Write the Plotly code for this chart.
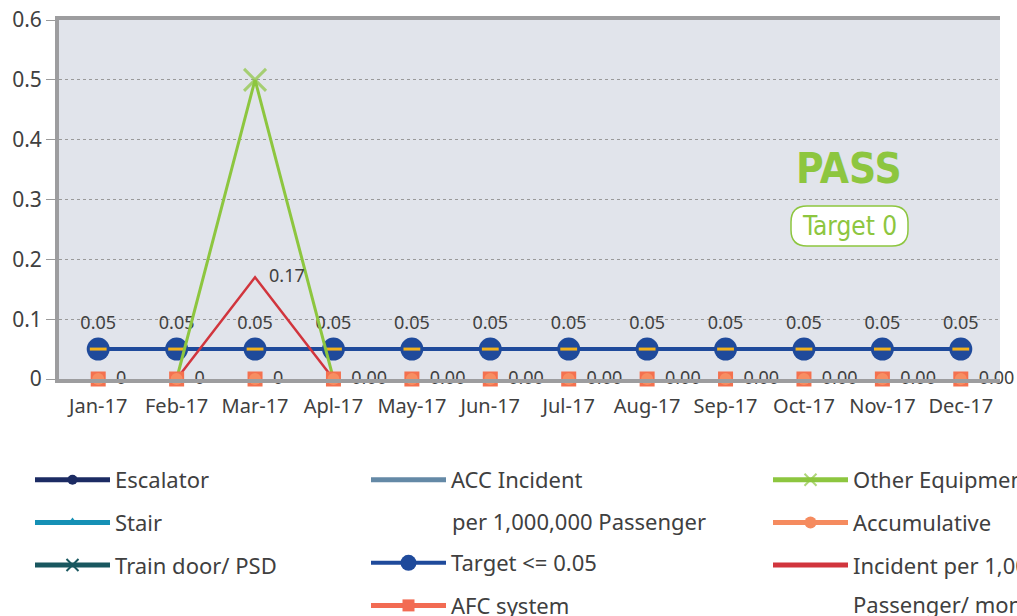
import plotly.graph_objects as go

# ---------------- data ----------------
months = ["Jan-17", "Feb-17", "Mar-17", "Apl-17", "May-17", "Jun-17",
          "Jul-17", "Aug-17", "Sep-17", "Oct-17", "Nov-17", "Dec-17"]
escalator = [None, None, None, None, None, None, None, None, None, None, None, None]
stair = [None, None, None, None, None, None, None, None, None, None, None, None]
train_door = [None, None, None, None, None, None, None, None, None, None, None, None]
acc_incident = [None, None, None, None, None, None, None, None, None, None, None, None]
target = [0.05, 0.05, 0.05, 0.05, 0.05, 0.05, 0.05, 0.05, 0.05, 0.05, 0.05, 0.05]
afc_system = [0, 0, 0, 0, 0, 0, 0, 0, 0, 0, 0, 0]
other_equipment = [None, 0, 0.5, 0, None, None, None, None, None, None, None, None]
accumulative = [0, 0, 0, 0, 0, 0, 0, 0, 0, 0, 0, 0]
accumulative_labels = ["0", "0", "0", "0.00", "0.00", "0.00", "0.00", "0.00",
                       "0.00", "0.00", "0.00", "0.00"]
incident_rate = [None, 0, 0.17, 0, None, None, None, None, None, None, None, None]
incident_labels = ["", "", "0.17", "", "", "", "", "", "", "", "", ""]
other_marker_sizes = [0, 0, 22, 0, 0, 0, 0, 0, 0, 0, 0, 0]
y_ticks = [0, 0.1, 0.2, 0.3, 0.4, 0.5, 0.6]

FONT = "Noto Sans"
COND = "Noto Sans ExtraCondensed, Noto Sans Condensed, DejaVu Sans Condensed, Liberation Sans Narrow"
TXT = "#404040"
GREEN = "#8dc63f"
NB = "\u00a0"

# plot area in pixels (for placing the non-data decorations)
L, T, W, H = 59, 20, 941, 359


def px(xp):
    return (xp - L) / W


def py(yp):
    return (T + H - yp) / H


fig = go.Figure()

# ---- legend-only series (no data in this period) ----
fig.add_trace(go.Scatter(x=months, y=escalator, name="Escalator", mode="lines+markers",
                         line=dict(color="#1c2b63", width=5),
                         marker=dict(symbol="circle", size=10, color="#1c2b63"),
                         legend="legend", legendgroup="g1"))
fig.add_trace(go.Scatter(x=months, y=stair, name="Stair", mode="lines+markers",
                         line=dict(color="#1590b5", width=5),
                         marker=dict(symbol="triangle-up", size=10, color="#1590b5"),
                         legend="legend", legendgroup="g2"))
fig.add_trace(go.Scatter(x=months, y=train_door, name="Train door/ PSD", mode="lines+markers",
                         line=dict(color="#19575f", width=5),
                         marker=dict(symbol="x-thin", size=12, line=dict(color="#19575f", width=2)),
                         legend="legend", legendgroup="g3"))
fig.add_trace(go.Scatter(x=months, y=acc_incident, name="ACC Incident", mode="lines",
                         line=dict(color="#6489a6", width=5),
                         legend="legend2", legendgroup="g4"))

# ---- data series ----
fig.add_trace(go.Scatter(x=months, y=target, name="Target <= 0.05", mode="lines+markers+text",
                         line=dict(color="#1f4a9b", width=4),
                         marker=dict(symbol="circle", size=23, color="#1f4a9b"),
                         text=[f"{v:.2f}" for v in target], textposition="top center",
                         textfont=dict(family=FONT, size=18, color=TXT),
                         cliponaxis=False, legend="legend3", legendgroup="g5"))
fig.add_trace(go.Scatter(x=months, y=target, mode="markers", showlegend=False, hoverinfo="skip",
                         marker=dict(symbol="line-ew", size=12, color="#f3b21c",
                                     line=dict(color="#f3b21c", width=3)),
                         cliponaxis=False, legendgroup="g5"))
fig.add_trace(go.Scatter(x=months, y=other_equipment, name="Other Equipment", mode="lines+markers",
                         line=dict(color=GREEN, width=3),
                         marker=dict(symbol="x-thin", size=other_marker_sizes,
                                     line=dict(color=GREEN, width=3), color=GREEN),
                         cliponaxis=False, legend="legend4", legendgroup="g7", legendrank=1))
fig.add_trace(go.Scatter(x=months, y=incident_rate, name="Incident per 1,000,000", mode="lines+text",
                         line=dict(color="#d1353d", width=2.5),
                         text=incident_labels, texttemplate=NB * 3 + "%{text}",
                         textposition="middle right",
                         textfont=dict(family=FONT, size=18, color=TXT),
                         cliponaxis=False, legend="legend4", legendgroup="g9", legendrank=3))
fig.add_trace(go.Scatter(x=months, y=afc_system, mode="markers", showlegend=False,
                         marker=dict(symbol="square", size=15, color="#f4714f"),
                         cliponaxis=False, legendgroup="g6"))
fig.add_trace(go.Scatter(x=months, y=accumulative, mode="markers+text", showlegend=False,
                         marker=dict(symbol="circle", size=12, color="#f78e62"),
                         text=accumulative_labels, texttemplate=NB * 2 + "%{text}",
                         textposition="middle right",
                         textfont=dict(family=FONT, size=18, color=TXT),
                         cliponaxis=False, legendgroup="g8"))

# ---- legend entries for the marker-only series ----
fig.add_trace(go.Scatter(x=months, y=[None] * len(months), name="AFC system", mode="lines+markers",
                         line=dict(color="#f26b53", width=5),
                         marker=dict(symbol="square", size=12, color="#f26b53"),
                         legend="legend3", legendgroup="g6"))
fig.add_trace(go.Scatter(x=months, y=[None] * len(months), name="Accumulative", mode="lines+markers",
                         line=dict(color="#f58b5f", width=5),
                         marker=dict(symbol="circle", size=12, color="#f58b5f"),
                         legend="legend4", legendgroup="g8", legendrank=2))

leg_common = dict(font=dict(family=FONT, size=22, color=TXT), bgcolor="rgba(0,0,0,0)",
                  orientation="v", itemwidth=75, tracegroupgap=11, xanchor="left", yanchor="top",
                  itemclick=False, itemdoubleclick=False)

fig.update_layout(
    width=1017, height=616,
    margin=dict(l=L, r=1017 - L - W, t=T, b=616 - T - H, autoexpand=False),
    paper_bgcolor="white",
    plot_bgcolor="#e1e4eb",
    font=dict(family=FONT, color=TXT),
    hovermode=False,
    xaxis=dict(type="category", categoryorder="array", categoryarray=months,
               range=[-0.5, 11.5], showgrid=False, zeroline=False,
               showline=True, linecolor="#9d9d9f", linewidth=4, mirror=True,
               ticks="", ticklabelstandoff=6,
               tickfont=dict(family=FONT, size=20, color=TXT)),
    yaxis=dict(range=[0, 0.6], tickvals=y_ticks, showgrid=True, gridcolor="#9a9a9a",
               griddash="dot", gridwidth=1.2, zeroline=False,
               showline=True, linecolor="#9d9d9f", linewidth=4,
               ticks="outside", ticklen=9, tickcolor="#9a9a9a", tickwidth=1,
               tickfont=dict(family=FONT, size=21, color=TXT)),
    legend=dict(**leg_common, x=px(30), y=py(459)),
    legend2=dict(**leg_common, x=px(366), y=py(459)),
    legend3=dict(**leg_common, x=px(366), y=py(542)),
    legend4=dict(**leg_common, x=px(768), y=py(459), itemsizing="constant"),
    showlegend=True,
)

# continuation lines of the wrapped legend labels
fig.add_annotation(xref="paper", yref="paper", x=px(450), y=py(521),
                   text="per 1,000,000 Passenger", showarrow=False, xanchor="left", yanchor="middle",
                   font=dict(family=FONT, size=22, color=TXT))
fig.add_annotation(xref="paper", yref="paper", x=px(851), y=py(604),
                   text="Passenger/ month", showarrow=False, xanchor="left", yanchor="middle",
                   font=dict(family=FONT, size=22, color=TXT))

# PASS badge
fig.add_annotation(xref="paper", yref="paper", x=px(849), y=py(168), text="PASS",
                   showarrow=False, xanchor="center", yanchor="middle",
                   font=dict(family=COND, size=42, color=GREEN, weight="bold"))
x0, x1 = px(791), px(908)
y0, y1 = py(246), py(206)
rx, ry = 16 / W, 16 / H
path = (f"M {x0+rx},{y1} L {x1-rx},{y1} Q {x1},{y1} {x1},{y1-ry} L {x1},{y0+ry} "
        f"Q {x1},{y0} {x1-rx},{y0} L {x0+rx},{y0} Q {x0},{y0} {x0},{y0+ry} "
        f"L {x0},{y1-ry} Q {x0},{y1} {x0+rx},{y1} Z")
fig.add_shape(type="path", xref="paper", yref="paper", path=path,
              line=dict(color=GREEN, width=1.5), fillcolor="white")
fig.add_annotation(xref="paper", yref="paper", x=px(849.5), y=py(226),
                   text="Target 0", showarrow=False, xanchor="center", yanchor="middle",
                   font=dict(family=COND, size=26, color=GREEN))

fig.write_html("out.html", config={"displayModeBar": False},
               post_script="document.body.style.margin='0px';")
